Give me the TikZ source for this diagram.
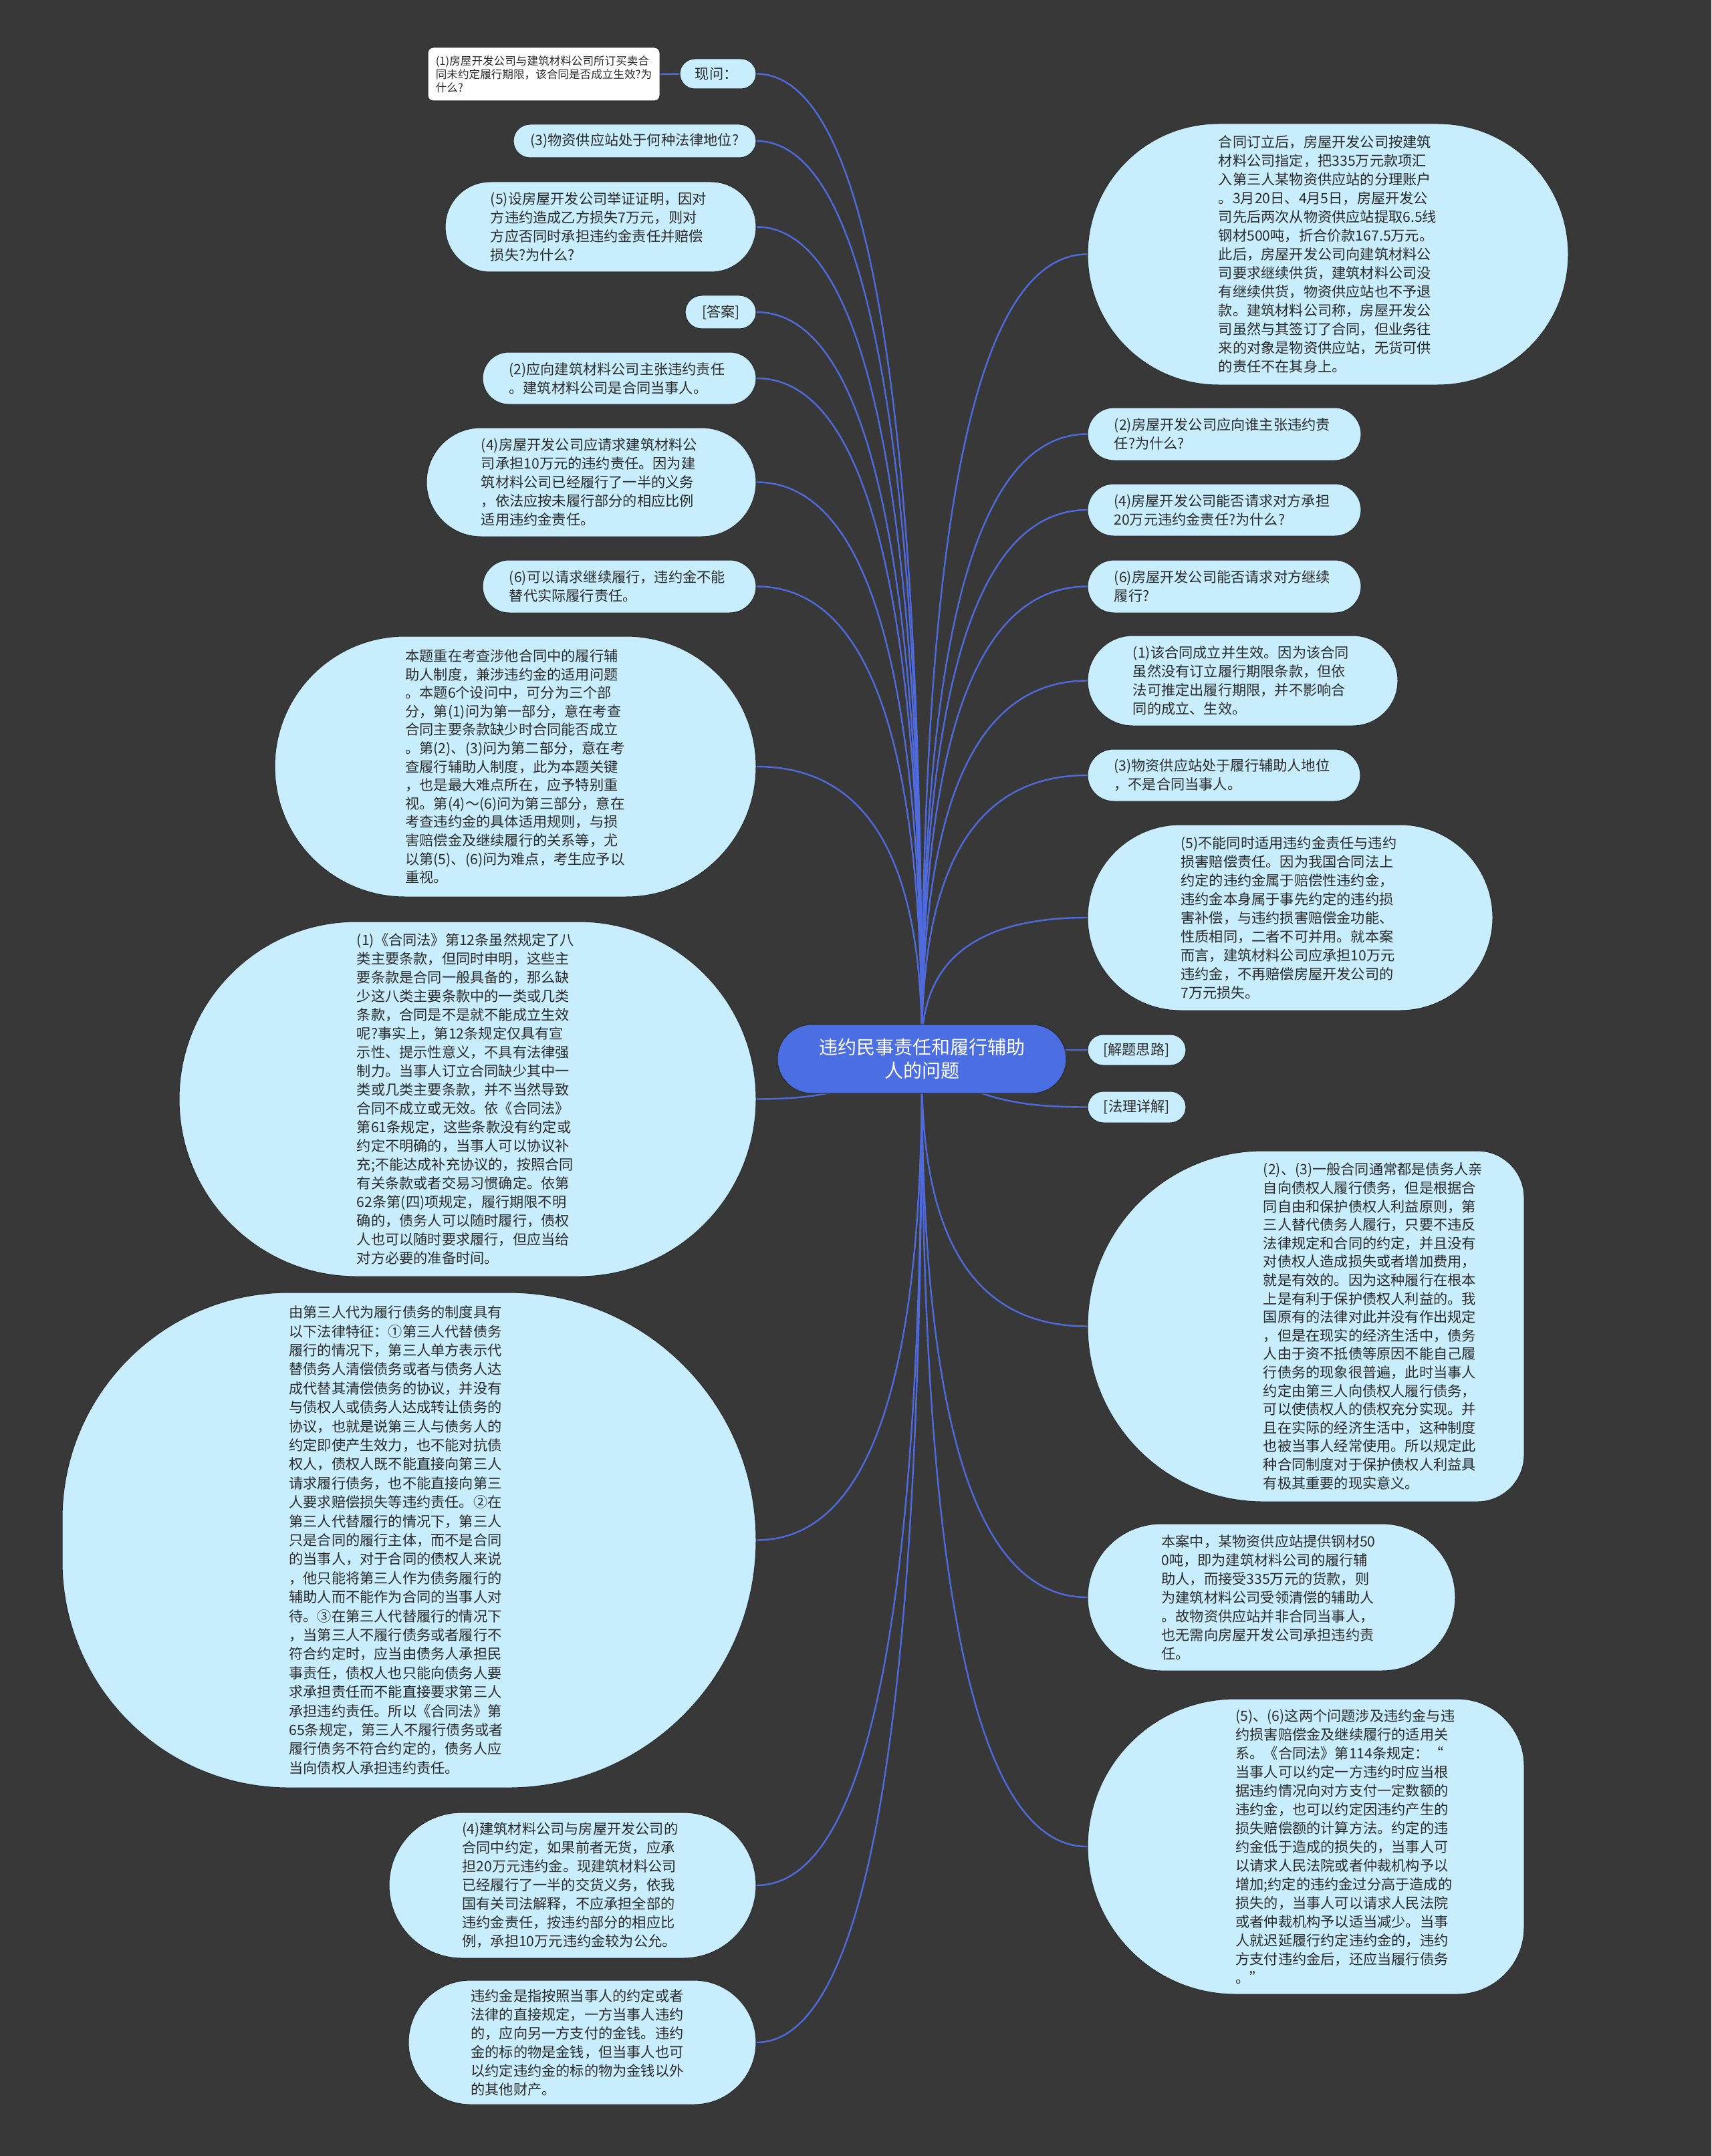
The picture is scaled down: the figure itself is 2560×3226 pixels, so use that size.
\documentclass[tikz,border=0pt]{standalone}
\usepackage{fontspec}
\setmainfont{Noto Sans CJK SC}
\usetikzlibrary{calc}
\definecolor{bg}{HTML}{383838}
\definecolor{nodefill}{HTML}{C8EDFC}
\definecolor{rootfill}{HTML}{4B6EE2}
\definecolor{linecol}{HTML}{4F6BDB}
\definecolor{txtcol}{HTML}{2B2B2B}
\definecolor{edgecol}{HTML}{2A2A2A}
\pgfdeclarelayer{bgl}
\pgfdeclarelayer{edges}
\pgfsetlayers{bgl,edges,main}
\tikzset{
  blobfill/.style={fill=nodefill, draw=edgecol, line width=0.5pt},
  anchorbox/.style={inner sep=0pt, draw=none, fill=none},
  rootblob/.style={fill=rootfill, draw=edgecol, line width=0.5pt, inner sep=0pt},
  whitebox/.style={fill=white, draw=edgecol, line width=0.5pt, inner sep=0pt, rounded corners=4pt},
  txt/.style={inner sep=0pt, align=left, text=txtcol, font=\fontsize{10.6pt}{14pt}\selectfont},
  conn/.style={draw=linecol, line width=1.2pt},
}
% #1 text opts, #2 name, #3 x1, #4 y1, #5 x2, #6 y2, #7 left radius, #8 right radius (empty = h/2), #9 text
\newcommand\blobnode[9][]{%
  \pgfmathsetmacro\bry{(#6-#4)/2}%
  \def\brl{#7}\ifx\brl\empty\let\brl\bry\fi
  \def\brr{#8}\ifx\brr\empty\let\brr\bry\fi
  \pgfmathsetmacro\kl{0.5523*\brl}%
  \pgfmathsetmacro\kr{0.5523*\brr}%
  \path[blobfill] (#3+\brl,#4) -- (#5-\brr,#4)
    .. controls (#5-\brr+\kr,#4) and (#5,#4+\brr-\kr) .. (#5,#4+\brr) -- (#5,#6-\brr)
    .. controls (#5,#6-\brr+\kr) and (#5-\brr+\kr,#6) .. (#5-\brr,#6) -- (#3+\brl,#6)
    .. controls (#3+\brl-\kl,#6) and (#3,#6-\brl+\kl) .. (#3,#6-\brl) -- (#3,#4+\brl)
    .. controls (#3,#4+\brl-\kl) and (#3+\brl-\kl,#4) .. (#3+\brl,#4) -- cycle;
  \node[anchorbox, minimum width={(#5-#3)*0.5pt}, minimum height={(#6-#4)*0.5pt}] (#2) at ({(#3+#5)/2},{(#4+#6)/2}) {};
  \node[txt, anchor=west, #1] (#2-t) at ({#3+\brl},{(#4+#6)/2}) {#9};
}
\newcommand\linkL[2]{\draw[conn] (#1) .. controls ($(#1)!0.67!(#1|-#2.east)$) and ($(#2.east)!0.67!(#1|-#2.east)$) .. (#2.east);}
\newcommand\linkR[2]{\draw[conn] (#1) .. controls ($(#1)!0.67!(#1|-#2.west)$) and ($(#2.west)!0.67!(#1|-#2.west)$) .. (#2.west);}
\begin{document}
\begin{tikzpicture}[x=0.5pt,y=-0.5pt]
\useasboundingbox (0,0) rectangle (2560,3226);
\begin{pgfonlayer}{bgl}
\fill[bg] (0,0) rectangle (2560,3226);
\end{pgfonlayer}

% ---------- left nodes ----------
\node[whitebox, minimum width=173.5pt, minimum height=40pt, align=left, text=txtcol, font=\fontsize{8.3pt}{10pt}\selectfont] (q1) at (813.5,111) {(1)房屋开发公司与建筑材料公司所订买卖合\\同未约定履行期限，该合同是否成立生效?为\\什么?};
\blobnode{xianwen}{1017}{88}{1131}{133}{}{}{现问：}
\blobnode{q3}{768}{186}{1131}{236}{}{}{(3)物资供应站处于何种法律地位?}
\blobnode{q5}{666}{272}{1131}{407}{}{}{(5)设房屋开发公司举证证明，因对\\方违约造成乙方损失7万元，则对\\方应否同时承担违约金责任并赔偿\\损失?为什么?}
\blobnode{daan}{1025}{442}{1131}{492}{}{}{[答案]}
\blobnode{a2}{722}{527}{1131}{605}{}{}{(2)应向建筑材料公司主张违约责任\\。建筑材料公司是合同当事人。}
\blobnode{a4}{638}{640}{1131}{803}{}{}{(4)房屋开发公司应请求建筑材料公\\司承担10万元的违约责任。因为建\\筑材料公司已经履行了一半的义务\\，依法应按未履行部分的相应比例\\适用违约金责任。}
\blobnode{a6}{722}{838}{1131}{917}{}{}{(6)可以请求继续履行，违约金不能\\替代实际履行责任。}
\blobnode[font=\fontsize{10.6pt}{13.8pt}\selectfont]{benti}{411}{952}{1131}{1342}{}{}{本题重在考查涉他合同中的履行辅\\助人制度，兼涉违约金的适用问题\\。本题6个设问中，可分为三个部\\分，第(1)问为第一部分，意在考查\\合同主要条款缺少时合同能否成立\\。第(2)、(3)问为第二部分，意在考\\查履行辅助人制度，此为本题关键\\，也是最大难点所在，应予特别重\\视。第(4)～(6)问为第三部分，意在\\考查违约金的具体适用规则，与损\\害赔偿金及继续履行的关系等，尤\\以第(5)、(6)问为难点，考生应予以\\重视。}
\blobnode{hetong}{268}{1379}{1131}{1910}{}{}{(1)《合同法》第12条虽然规定了八\\类主要条款，但同时申明，这些主\\要条款是合同一般具备的，那么缺\\少这八类主要条款中的一类或几类\\条款，合同是不是就不能成立生效\\呢?事实上，第12条规定仅具有宣\\示性、提示性意义，不具有法律强\\制力。当事人订立合同缺少其中一\\类或几类主要条款，并不当然导致\\合同不成立或无效。依《合同法》\\第61条规定，这些条款没有约定或\\约定不明确的，当事人可以协议补\\充;不能达成补充协议的，按照合同\\有关条款或者交易习惯确定。依第\\62条第(四)项规定，履行期限不明\\确的，债务人可以随时履行，债权\\人也可以随时要求履行，但应当给\\对方必要的准备时间。}
\blobnode[font=\fontsize{10.6pt}{14.2pt}\selectfont]{disan}{93}{1934}{1131}{2675}{339}{}{由第三人代为履行债务的制度具有\\以下法律特征：①第三人代替债务\\履行的情况下，第三人单方表示代\\替债务人清偿债务或者与债务人达\\成代替其清偿债务的协议，并没有\\与债权人或债务人达成转让债务的\\协议，也就是说第三人与债务人的\\约定即使产生效力，也不能对抗债\\权人，债权人既不能直接向第三人\\请求履行债务，也不能直接向第三\\人要求赔偿损失等违约责任。②在\\第三人代替履行的情况下，第三人\\只是合同的履行主体，而不是合同\\的当事人，对于合同的债权人来说\\，他只能将第三人作为债务履行的\\辅助人而不能作为合同的当事人对\\待。③在第三人代替履行的情况下\\，当第三人不履行债务或者履行不\\符合约定时，应当由债务人承担民\\事责任，债权人也只能向债务人要\\求承担责任而不能直接要求第三人\\承担违约责任。所以《合同法》第\\65条规定，第三人不履行债务或者\\履行债务不符合约定的，债务人应\\当向债权人承担违约责任。}
\blobnode{jc}{582}{2712}{1131}{2930}{}{}{(4)建筑材料公司与房屋开发公司的\\合同中约定，如果前者无货，应承\\担20万元违约金。现建筑材料公司\\已经履行了一半的交货义务，依我\\国有关司法解释，不应承担全部的\\违约金责任，按违约部分的相应比\\例，承担10万元违约金较为公允。}
\blobnode{wyj}{611}{2963}{1131}{3149}{}{}{违约金是指按照当事人的约定或者\\法律的直接规定，一方当事人违约\\的，应向另一方支付的金钱。违约\\金的标的物是金钱，但当事人也可\\以约定违约金的标的物为金钱以外\\的其他财产。}

% ---------- right nodes ----------
\blobnode{ra}{1627}{185}{2346}{576}{}{}{合同订立后，房屋开发公司按建筑\\材料公司指定，把335万元款项汇\\入第三人某物资供应站的分理账户\\。3月20日、4月5日，房屋开发公\\司先后两次从物资供应站提取6.5线\\钢材500吨，折合价款167.5万元。\\此后，房屋开发公司向建筑材料公\\司要求继续供货，建筑材料公司没\\有继续供货，物资供应站也不予退\\款。建筑材料公司称，房屋开发公\\司虽然与其签订了合同，但业务往\\来的对象是物资供应站，无货可供\\的责任不在其身上。}
\blobnode{rb2}{1627}{610}{2036}{689}{}{}{(2)房屋开发公司应向谁主张违约责\\任?为什么?}
\blobnode{rb4}{1627}{724}{2036}{802}{}{}{(4)房屋开发公司能否请求对方承担\\20万元违约金责任?为什么?}
\blobnode{rb6}{1627}{838}{2036}{917}{}{}{(6)房屋开发公司能否请求对方继续\\履行?}
\blobnode{rc1}{1627}{951}{2091}{1086}{}{}{(1)该合同成立并生效。因为该合同\\虽然没有订立履行期限条款，但依\\法可推定出履行期限，并不影响合\\同的成立、生效。}
\blobnode{rc3}{1627}{1121}{2035}{1199}{}{}{(3)物资供应站处于履行辅助人地位\\，不是合同当事人。}
\blobnode{rc5}{1627}{1234}{2233}{1512}{}{}{(5)不能同时适用违约金责任与违约\\损害赔偿责任。因为我国合同法上\\约定的违约金属于赔偿性违约金，\\违约金本身属于事先约定的违约损\\害补偿，与违约损害赔偿金功能、\\性质相同，二者不可并用。就本案\\而言，建筑材料公司应承担10万元\\违约金，不再赔偿房屋开发公司的\\7万元损失。}
\blobnode{jtsl}{1627}{1548}{1774}{1594}{}{}{[解题思路]}
\blobnode{flxj}{1627}{1633}{1774}{1680}{}{}{[法理详解]}
\blobnode[font=\fontsize{10.6pt}{13.8pt}\selectfont]{rd23}{1627}{1722}{2280}{2247}{}{70}{(2)、(3)一般合同通常都是债务人亲\\自向债权人履行债务，但是根据合\\同自由和保护债权人利益原则，第\\三人替代债务人履行，只要不违反\\法律规定和合同的约定，并且没有\\对债权人造成损失或者增加费用，\\就是有效的。因为这种履行在根本\\上是有利于保护债权人利益的。我\\国原有的法律对此并没有作出规定\\，但是在现实的经济生活中，债务\\人由于资不抵债等原因不能自己履\\行债务的现象很普遍，此时当事人\\约定由第三人向债权人履行债务，\\可以使债权人的债权充分实现。并\\且在实际的经济生活中，这种制度\\也被当事人经常使用。所以规定此\\种合同制度对于保护债权人利益具\\有极其重要的现实意义。}
\blobnode{rban}{1627}{2280}{2177}{2500}{}{}{本案中，某物资供应站提供钢材50\\0吨，即为建筑材料公司的履行辅\\助人，而接受335万元的货款，则\\为建筑材料公司受领清偿的辅助人\\。故物资供应站并非合同当事人，\\也无需向房屋开发公司承担违约责\\任。}
\blobnode{rd56}{1627}{2542}{2280}{2984}{}{100}{(5)、(6)这两个问题涉及违约金与违\\约损害赔偿金及继续履行的适用关\\系。《合同法》第114条规定：“\\当事人可以约定一方违约时应当根\\据违约情况向对方支付一定数额的\\违约金，也可以约定因违约产生的\\损失赔偿额的计算方法。约定的违\\约金低于造成的损失的，当事人可\\以请求人民法院或者仲裁机构予以\\增加;约定的违约金过分高于造成的\\损失的，当事人可以请求人民法院\\或者仲裁机构予以适当减少。当事\\人就迟延履行约定违约金的，违约\\方支付违约金后，还应当履行债务\\。”}

% ---------- root ----------
\node[rootblob, minimum width=216pt, minimum height=51.5pt, rounded corners=25.7pt, text=white, align=center, font=\fontsize{14pt}{17.5pt}\selectfont] (root) at (1379,1584.5) {违约民事责任和履行辅助\\人的问题};

% ---------- connectors (behind nodes) ----------
\coordinate (rt) at (1379,1565);
\coordinate (rbot) at (1379,1605);
\coordinate (hts) at (1300,1615);
\coordinate (fls) at (1400,1600);
\begin{pgfonlayer}{edges}
\draw[conn] (q1.east) -- (xianwen.west);
\linkL{rt}{xianwen}
\linkL{rt}{q3}
\linkL{rt}{q5}
\linkL{rt}{daan}
\linkL{rt}{a2}
\linkL{rt}{a4}
\linkL{rt}{a6}
\linkL{rt}{benti}
\draw[conn] (hts) .. controls (1250,1640) and (1190,1644.5) .. (hetong.east);
\linkL{rbot}{disan}
\linkL{rbot}{jc}
\linkL{rbot}{wyj}
\linkR{rt}{ra}
\linkR{rt}{rb2}
\linkR{rt}{rb4}
\linkR{rt}{rb6}
\linkR{rt}{rc1}
\linkR{rt}{rc3}
\linkR{rt}{rc5}
\draw[conn] (root.center |- jtsl.west) -- (jtsl.west);
\draw[conn] (fls) .. controls (1470,1650) and (1545,1656.5) .. (flxj.west);
\linkR{rbot}{rd23}
\linkR{rbot}{rban}
\linkR{rbot}{rd56}
\end{pgfonlayer}
\end{tikzpicture}
\end{document}
